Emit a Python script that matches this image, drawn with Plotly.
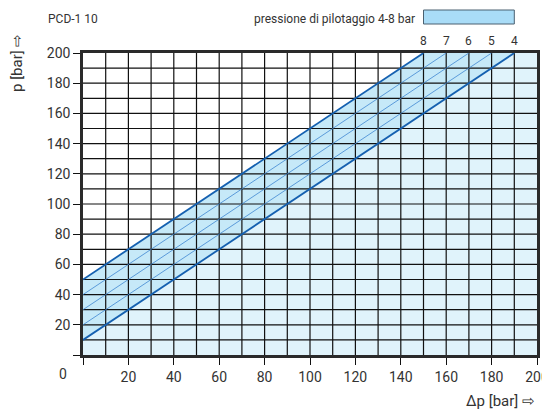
import plotly.graph_objects as go

# Data
pilot_pressures = [4, 5, 6, 7, 8]          # bar
line_offsets = [10, 20, 30, 40, 50]          # p at Δp = 0 for each pilot pressure
p_max = 200
dp_max = 200
x_ticks = [0, 20, 40, 60, 80, 100, 120, 140, 160, 180, 200]
y_ticks = [0, 20, 40, 60, 80, 100, 120, 140, 160, 180, 200]
grid_step = 10

FONT = "Roboto, Liberation Sans, sans-serif"
TXT = "#333333"
DARK_BLUE = "#1560b0"
THIN_BLUE = "#3f86d2"
BAND = "#c6e9f8"
BELOW = "#e0f3fb"

# the page body has an 8px margin; size the figure so it ends at the 550x412 window edge
PAGE_OFF = 8
W, H = 550 - PAGE_OFF, 412 - PAGE_OFF
M_L, M_R, M_T, M_B = 83 - PAGE_OFF, 13, 53 - PAGE_OFF, 57
plot_h = H - M_T - M_B

fig = go.Figure()

lo = line_offsets[0]
hi = line_offsets[-1]

# region below lowest line
fig.add_trace(go.Scatter(
    x=[0, 0, dp_max - lo, dp_max, dp_max, 0],
    y=[0, lo, p_max, p_max, 0, 0],
    fill="toself", fillcolor=BELOW, line=dict(width=0), mode="lines",
    hoverinfo="skip", showlegend=False))

# band between 4 and 8 bar
fig.add_trace(go.Scatter(
    x=[0, 0, dp_max - hi, dp_max - lo, 0],
    y=[lo, hi, p_max, p_max, lo],
    fill="toself", fillcolor=BAND, line=dict(width=0), mode="lines",
    hoverinfo="skip", showlegend=False))

# grid drawn above fills
gx, gy = [], []
for v in range(grid_step, dp_max, grid_step):
    gx += [v, v, None]
    gy += [0, p_max, None]
for v in range(grid_step, p_max, grid_step):
    gx += [0, dp_max, None]
    gy += [v, v, None]
fig.add_trace(go.Scatter(x=gx, y=gy, mode="lines",
                         line=dict(color="#111111", width=1.2),
                         hoverinfo="skip", showlegend=False))

# pilot pressure lines
for pp, off in zip(pilot_pressures, line_offsets):
    thick = pp in (pilot_pressures[0], pilot_pressures[-1])
    fig.add_trace(go.Scatter(
        x=[0, dp_max - off], y=[off, p_max], mode="lines",
        line=dict(color=DARK_BLUE if thick else THIN_BLUE,
                  width=1.8 if thick else 0.8),
        hoverinfo="skip", showlegend=False))
    fig.add_annotation(x=dp_max - off, y=p_max, text=str(pp), showarrow=False,
                       xanchor="center", yanchor="bottom", yshift=3,
                       font=dict(family=FONT, size=12, color=TXT))

axis_common = dict(
    range=[0, 200], showgrid=False, zeroline=False, automargin=False,
    showline=True, linecolor="#2a2a2a", linewidth=2.5, mirror=True,
    ticks="outside", ticklen=7, tickcolor="#111111", tickwidth=1,
    ticklabeloverflow="allow",
    tickfont=dict(family=FONT, size=14, color=TXT),
)

fig.update_xaxes(**axis_common, tickvals=x_ticks,
                 ticktext=["" if v == 0 else str(v) for v in x_ticks])
fig.update_yaxes(**axis_common, tickvals=y_ticks,
                 ticktext=["" if v == 0 else str(v) for v in y_ticks])

# texts
fig.add_annotation(xref="paper", yref="paper", x=0, y=0, xshift=-20, yshift=-19,
                   xanchor="center", yanchor="middle",
                   text="0", showarrow=False,
                   font=dict(family=FONT, size=14, color=TXT))
fig.add_annotation(xref="paper", yref="paper", x=1, y=0, xanchor="right",
                   yanchor="middle", yshift=-46, text="Δp [bar] ⇨", showarrow=False,
                   font=dict(family=FONT, size=15, color=TXT))
fig.add_annotation(xref="paper", yref="paper", x=0, y=1, xshift=-66, yshift=-10,
                   xanchor="center", yanchor="middle", text="p [bar] ⇨",
                   textangle=-90, showarrow=False,
                   font=dict(family=FONT, size=15, color=TXT))
fig.add_annotation(xref="paper", yref="paper", x=0, y=1, xshift=-10, yshift=34,
                   xanchor="center", yanchor="middle", text="PCD-1 10",
                   showarrow=False, font=dict(family=FONT, size=12, color=TXT))
fig.add_annotation(xref="x", yref="paper", x=dp_max - hi, y=1, xshift=-7, yshift=34,
                   xanchor="right", yanchor="middle",
                   text="pressione di pilotaggio 4-8 bar",
                   showarrow=False, font=dict(family=FONT, size=12, color=TXT))
fig.add_shape(type="rect", xref="x", yref="paper",
              x0=dp_max - hi, x1=dp_max - lo,
              y0=1 + (53 - 24) / plot_h, y1=1 + (53 - 10) / plot_h,
              fillcolor="#a9dcf7", line=dict(color="#4a6070", width=1))

fig.update_layout(
    width=W, height=H,
    margin=dict(l=M_L, r=M_R, t=M_T, b=M_B, autoexpand=False),
    paper_bgcolor="white", plot_bgcolor="white",
    showlegend=False,
)

fig.write_html("out.html", config={"displayModeBar": False})
